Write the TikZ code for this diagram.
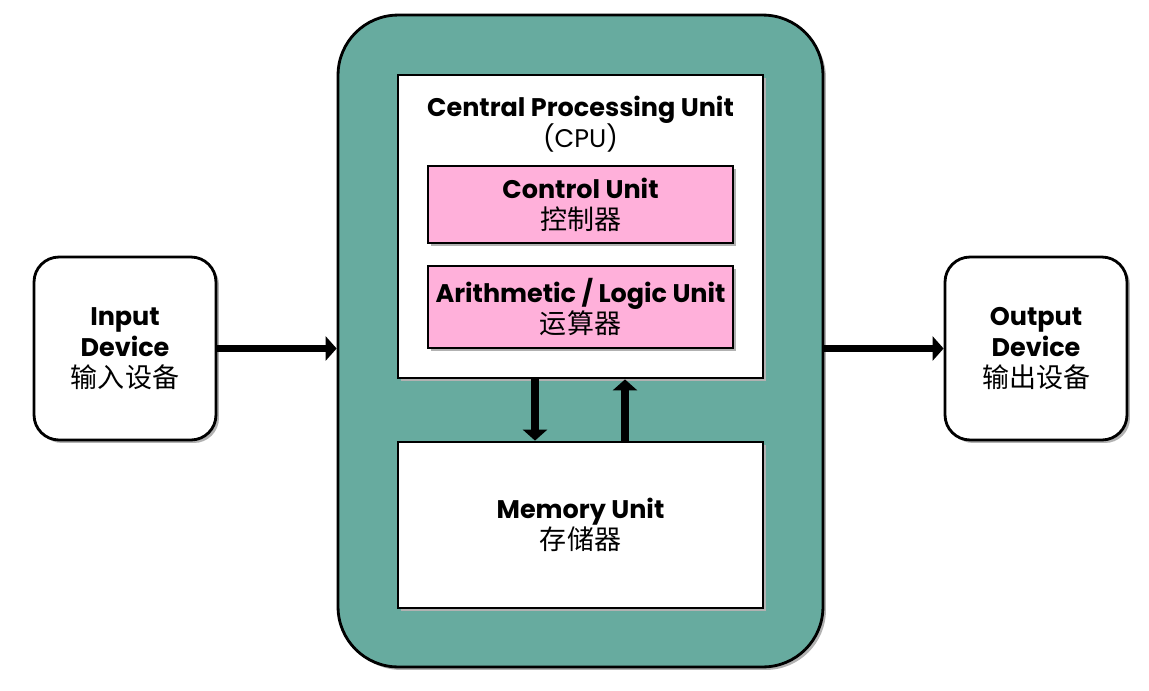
\documentclass[tikz,border=0pt]{standalone}
\usepackage{fontspec}
\setmainfont{Poppins}
\newfontfamily\cjk[Scale=1.06]{Noto Sans CJK SC}
\usetikzlibrary{arrows.meta,shadows,positioning}
\definecolor{boardteal}{HTML}{67AB9F}
\definecolor{unitpink}{HTML}{FFB0DA}
\tikzset{
	shade box/.style={draw,line width=1.6pt,drop shadow={shadow xshift=0.06cm,shadow yshift=-0.06cm,fill=black!30,opacity=1}},
	devbox/.style={shade box,fill=white,rounded corners=0.5cm,minimum width=3.64cm,minimum height=3.66cm,align=center},
	unitbox/.style={shade box,fill=unitpink,minimum width=6.1cm,align=center},
	bigarrow/.style={line width=4.5pt,-{Triangle[length=0.22cm,width=0.48cm]}}
}
\begin{document}
\begin{tikzpicture}[x=0.02cm,y=-0.02cm,font=\fontsize{14.5}{17.6}\selectfont]
	\useasboundingbox (0,0) rectangle (1149,690);
	\node[shade box,fill=boardteal,rounded corners=1.2cm,minimum width=9.7cm,minimum height=13.04cm](board) at (580.5,341){};
	\node[shade box,fill=white,minimum width=7.3cm,minimum height=6.06cm](cpu) at (580.5,226.5){};
	\node[align=center](cputitle) at (580.5,124){\bfseries Central Processing Unit\\(CPU)};
	\node[unitbox,minimum height=1.54cm](control) at (580.5,204.5){\bfseries Control Unit\\{\cjk 控制器}};
	\node[unitbox,minimum height=1.64cm](alu) at (580.5,307){\bfseries Arithmetic / Logic Unit\\{\cjk 运算器}};
	\node[shade box,fill=white,minimum width=7.3cm,minimum height=3.32cm,align=center](memory) at (580.5,525){\bfseries Memory Unit\\{\cjk 存储器}};
	\node[devbox](input) at (125,348.5){\bfseries Input\\\bfseries Device\\{\cjk 输入设备}};
	\node[devbox](output) at (1036,348.5){\bfseries Output\\\bfseries Device\\{\cjk 输出设备}};
	\draw[bigarrow] (input.east) -- (input.east -| board.west);
	\draw[bigarrow] (board.east |- output.west) -- (output.west);
	\draw[bigarrow] ([xshift=-0.91cm]cpu.south) -- ([xshift=-0.91cm]memory.north);
	\draw[bigarrow] ([xshift=0.89cm]memory.north) -- ([xshift=0.89cm]cpu.south);
\end{tikzpicture}
\end{document}
